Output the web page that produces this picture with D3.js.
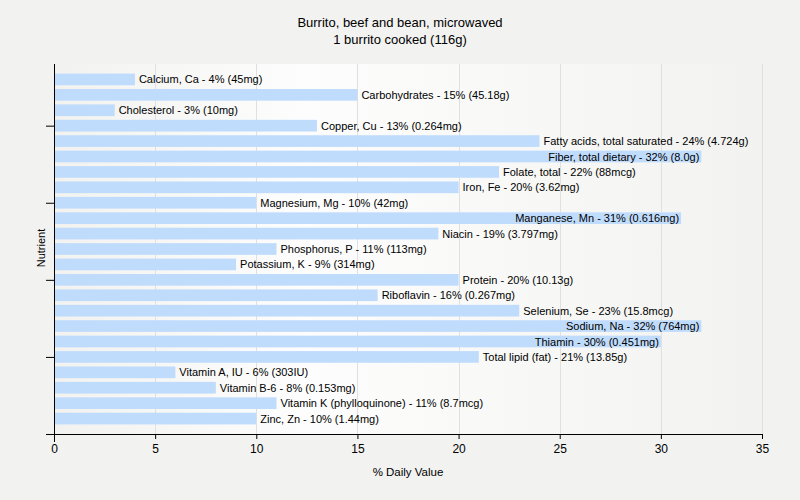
<!DOCTYPE html>
<html><head><meta charset="utf-8">
<script src="https://cdn.jsdelivr.net/npm/d3@7"></script>
<style>body{margin:0;background:#f2f2f0;} svg{display:block;font-family:"Liberation Sans",Arial,sans-serif;}</style>
</head><body>
<svg id="chart" width="800" height="500"></svg>
<script>
const titleLines = ["Burrito, beef and bean, microwaved", "1 burrito cooked (116g)"];
const nutrients = ["Calcium, Ca","Carbohydrates","Cholesterol","Copper, Cu","Fatty acids, total saturated","Fiber, total dietary","Folate, total","Iron, Fe","Magnesium, Mg","Manganese, Mn","Niacin","Phosphorus, P","Potassium, K","Protein","Riboflavin","Selenium, Se","Sodium, Na","Thiamin","Total lipid (fat)","Vitamin A, IU","Vitamin B-6","Vitamin K (phylloquinone)","Zinc, Zn"];
const dailyValues = [4,15,3,13,24,32,22,20,10,31,19,11,9,20,16,23,32,30,21,6,8,11,10];
const amounts = ["45mg","45.18g","10mg","0.264mg","4.724g","8.0g","88mcg","3.62mg","42mg","0.616mg","3.797mg","113mg","314mg","10.13g","0.267mg","15.8mcg","764mg","0.451mg","13.85g","303IU","0.153mg","8.7mcg","1.44mg"];
const xTicks = [0,5,10,15,20,25,30,35];
const yTicks = [0,5,10,15,20];

(function(){
const svg = d3.select("#chart");
const mLeft = 54, mRight = 762, mTop = 64, mBottom = 434;
const x = d3.scaleLinear().domain([0,35]).range([mLeft,mRight]);
const y = d3.scaleLinear().domain([0,24]).range([mBottom,mTop]);
const n = nutrients.length;
const pos = i => n - i; // first category at top

const defs = svg.append("defs");
const grad = defs.append("linearGradient").attr("id","bg").attr("x1","0").attr("x2","1").attr("y1","0").attr("y2","0");
grad.append("stop").attr("offset","0%").attr("stop-color","#f2f2f0");
grad.append("stop").attr("offset","35%").attr("stop-color","#fdfdfd");
grad.append("stop").attr("offset","100%").attr("stop-color","#f2f2f0");

svg.append("rect").attr("x",mLeft).attr("y",mTop).attr("width",mRight-mLeft+8).attr("height",mBottom-mTop).attr("fill","url(#bg)");

// grid
svg.append("g").selectAll("line").data(xTicks.slice(1)).join("line")
  .attr("x1",d=>x(d)+0.5).attr("x2",d=>x(d)+0.5).attr("y1",mTop).attr("y2",mBottom)
  .attr("stroke","#e0e0e0").attr("stroke-width",1).attr("shape-rendering","crispEdges");

// bars
const bh = 11.7;
svg.append("g").selectAll("rect").data(dailyValues).join("rect")
  .attr("x",x(0)+1).attr("y",(d,i)=>y(pos(i))-bh/2)
  .attr("width",d=>x(d)-x(0)-1).attr("height",bh).attr("fill","#c0dcfc");

// labels
const lg = svg.append("g").attr("font-size","11px").attr("fill","#000");
dailyValues.forEach((d,i)=>{
  const label = `${nutrients[i]} - ${d}% (${amounts[i]})`;
  const t = lg.append("text").attr("y",y(pos(i))+4).text(label);
  const w = t.node().getComputedTextLength();
  if (x(d)+4+w > mRight) {
    t.attr("x",x(d)-2).attr("text-anchor","end");
  } else {
    t.attr("x",x(d)+4);
  }
});

// axes
const xAxis = svg.append("g").attr("transform",`translate(0,${mBottom})`)
  .call(d3.axisBottom(x).tickValues(xTicks).tickSize(5).tickSizeOuter(0).tickFormat(d3.format("d")));
xAxis.select(".domain").attr("d",`M${mLeft-8},0.5H${mRight+0.5}`).attr("stroke","#000");
xAxis.selectAll(".tick line").attr("stroke","#000");
xAxis.selectAll("text").attr("font-size","12px").attr("fill","#000").attr("font-family","Liberation Sans, Arial, sans-serif").attr("dy","0.95em");

const yAxis = svg.append("g").attr("transform",`translate(${mLeft},0)`)
  .call(d3.axisLeft(y).tickValues(yTicks).tickSize(8).tickSizeOuter(0).tickFormat(""));
yAxis.select(".domain").attr("d",`M0.5,${mTop}V${mBottom+8}`).attr("stroke","#000");
yAxis.selectAll(".tick line").attr("stroke","#000");

// titles
svg.append("text").attr("x",400).attr("y",27).attr("text-anchor","middle").attr("font-size","13px").text(titleLines[0]);
svg.append("text").attr("x",400).attr("y",44).attr("text-anchor","middle").attr("font-size","13px").text(titleLines[1]);
svg.append("text").attr("x",408).attr("y",476).attr("text-anchor","middle").attr("font-size","11.5px").text("% Daily Value");
svg.append("text").attr("transform","translate(45,248) rotate(-90)").attr("text-anchor","middle").attr("font-size","11px").text("Nutrient");
})();
</script>
</body></html>
